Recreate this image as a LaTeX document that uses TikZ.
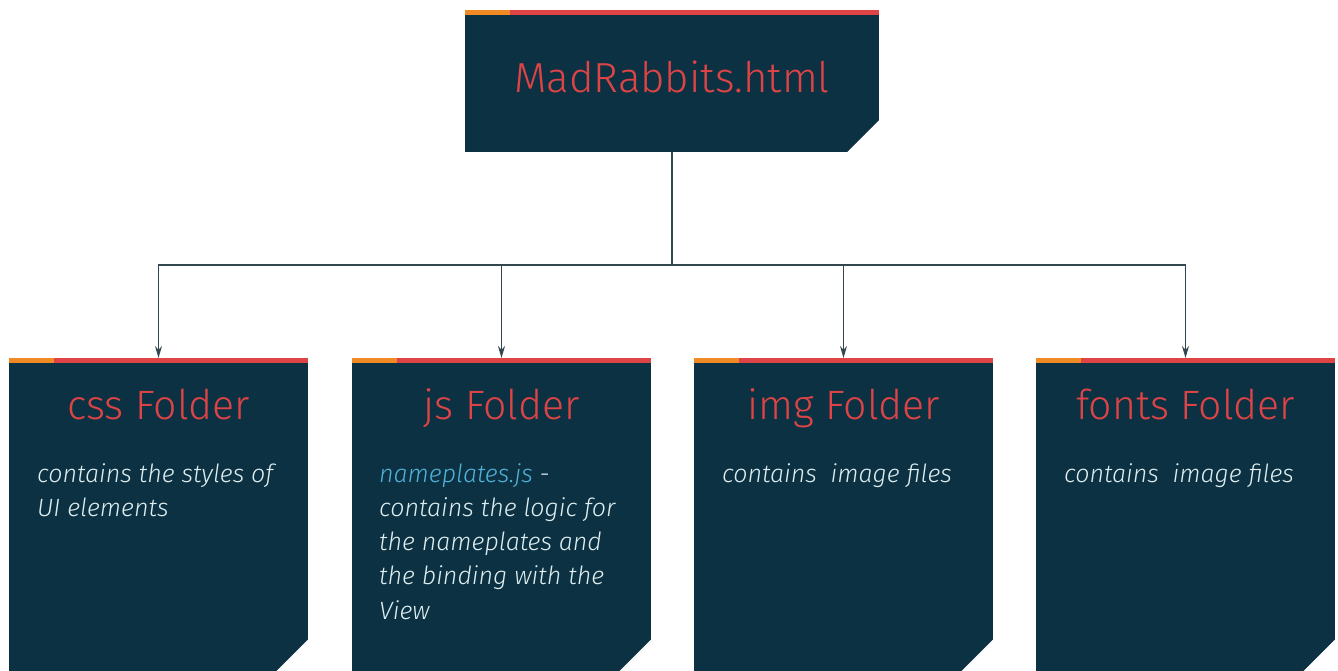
\documentclass[tikz,border=0pt]{standalone}
\usepackage{fontspec}
\setmainfont{Fira Sans}[UprightFont={* Light}, ItalicFont={* Light Italic}]
\usetikzlibrary{arrows.meta,positioning}

\definecolor{boxblue}{RGB}{12,49,66}
\definecolor{titlered}{RGB}{222,68,70}
\definecolor{stripeorange}{RGB}{240,138,36}
\definecolor{bodytext}{RGB}{222,238,240}
\definecolor{linkblue}{RGB}{80,178,216}
\definecolor{linegray}{RGB}{52,70,80}

\tikzset{
  filebox/.style={rectangle,fill=boxblue,inner sep=0pt,minimum width=414pt,minimum height=142pt},
  folder/.style={rectangle,fill=boxblue,inner sep=0pt,minimum width=299pt,minimum height=313pt,anchor=north},
  boxtitle/.style={text=titlered,inner sep=0pt,anchor=base,font=\fontsize{41}{48}\selectfont},
  boxbody/.style={text=bodytext,inner sep=0pt,anchor=north west,align=left,font=\fontsize{25}{34.3}\itshape},
  conn/.style={draw=linegray,line width=1.4pt,-{Stealth[length=12pt,width=7pt]}}
}

\begin{document}
\begin{tikzpicture}[x=1pt,y=1pt]
  \useasboundingbox (0,0) rectangle (1338,671);

  % main file
  \node[filebox] (top) at (672,590) {};
  \node[boxtitle,font=\fontsize{42}{50}\selectfont] (toptitle) at (672,578) {MadRabbits.html};

  % folders
  \node[folder] (css) at (158.5,313) {};
  \node[folder] (js) at (501.5,313) {};
  \node[folder] (img) at (843.5,313) {};
  \node[folder] (fonts) at (1185.5,313) {};

  % stripes and cut corners
  \foreach \b in {top,css,js,img,fonts}{
    \fill[titlered] (\b.north west) rectangle ([yshift=-5.5pt]\b.north east);
    \fill[stripeorange] (\b.north west) rectangle ([xshift=45pt,yshift=-5.5pt]\b.north west);
    \fill[white] ([yshift=-0.5pt]\b.south east) -- ([xshift=1pt,yshift=33pt]\b.south east)
      -- ([xshift=-33pt,yshift=-1pt]\b.south east) -- cycle;
  }

  \node[boxtitle] (csst) at (158.5,251) {css Folder};
  \node[boxtitle] (jst) at (501.5,251) {js Folder};
  \node[boxtitle] (imgt) at (843.5,251) {img Folder};
  \node[boxtitle] (fontst) at (1185.5,251) {fonts Folder};

  \node[boxbody] (cssb) at (37,208) {contains the styles of\\UI elements};
  \node[boxbody] (jsb) at (379,208) {\textcolor{linkblue}{nameplates.js} -\\contains the logic for\\the nameplates and\\the binding with the\\View};
  \node[boxbody] (imgb) at (722,208) {contains\ \ image files};
  \node[boxbody] (fontsb) at (1064,208) {contains\ \ image files};

  % connectors
  \coordinate (hub) at (672,406);
  \foreach \f in {css,js,img,fonts}
    \draw[conn] (top.south) -- (hub) -| (\f.north);
\end{tikzpicture}
\end{document}
